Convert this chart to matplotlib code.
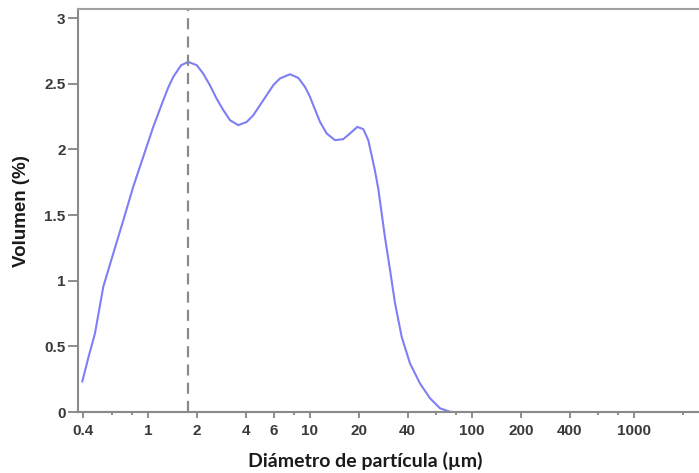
import matplotlib
matplotlib.use("Agg")
import matplotlib.pyplot as plt
from matplotlib.ticker import FixedLocator, NullFormatter

# Data
diam = [0.393, 0.43, 0.471, 0.53, 0.611, 0.705, 0.811, 0.935, 1.078, 1.243,
        1.334, 1.433, 1.6, 1.77, 2.0, 2.19, 2.41, 2.65, 2.92, 3.21, 3.61,
        4.07, 4.47, 4.91, 5.40, 5.94, 6.53, 7.53, 8.47, 9.31, 10.0, 10.48,
        11.53, 12.68, 14.26, 16.06, 17.66, 19.59, 21.33, 22.9, 24.0, 25.2,
        26.4, 29.0, 31.2, 33.5, 36.8, 41.4, 47.7, 55.1, 63.5, 73.1, 76.0]
vol = [0.231, 0.42, 0.599, 0.954, 1.208, 1.461, 1.715, 1.943, 2.171, 2.374,
       2.471, 2.552, 2.64, 2.666, 2.641, 2.578, 2.489, 2.387, 2.298, 2.222,
       2.184, 2.209, 2.26, 2.336, 2.412, 2.489, 2.54, 2.572, 2.544, 2.476,
       2.40, 2.336, 2.209, 2.121, 2.07, 2.078, 2.121, 2.171, 2.154, 2.07,
       1.956, 1.835, 1.70, 1.334, 1.081, 0.827, 0.573, 0.371, 0.218, 0.104,
       0.028, 0.002, 0.0]
mode_diam = 1.76

xticks_major = [0.4, 1, 2, 4, 6, 10, 20, 40, 100, 200, 400, 1000]
xtick_labels = ["0.4", "1", "2", "4", "6", "10", "20", "40", "100", "200", "400", "1000"]
xticks_minor = [0.6, 0.8, 8, 60, 80, 600, 800, 2000]
yticks = [0, 0.5, 1, 1.5, 2, 2.5, 3]
ytick_labels = ["0", "0.5", "1", "1.5", "2", "2.5", "3"]

W, H = 699, 473
fig = plt.figure(figsize=(W / 100, H / 100), dpi=100)
ax = fig.add_axes([78 / W, (H - 412) / H, (W - 78) / W, (412 - 9.5) / H])

ax.plot(diam, vol, color="#7f7ff5", lw=1.5, solid_joinstyle="round",
        solid_capstyle="round")
ax.axvline(mode_diam, color="#8a8a8a", lw=1.6, ls=(0, (5, 3.2)))

ax.set_xscale("log")
ax.set_xlim(0.37, 2518)
ax.set_ylim(0, 3.065)

ax.xaxis.set_major_locator(FixedLocator(xticks_major))
ax.set_xticklabels(xtick_labels)
ax.xaxis.set_minor_locator(FixedLocator(xticks_minor))
ax.xaxis.set_minor_formatter(NullFormatter())
ax.set_yticks(yticks)
ax.set_yticklabels(ytick_labels)

for lab in ax.get_xticklabels() + ax.get_yticklabels():
    lab.set_fontfamily("Liberation Sans")
    lab.set_fontweight("bold")
    lab.set_fontsize(11)
    lab.set_color("#3a3a3a")

ax.tick_params(axis="x", which="major", length=4.5, width=1.2, color="#7a7a7a", pad=4)
ax.tick_params(axis="x", which="minor", length=2.5, width=1.2, color="#7a7a7a")
ax.tick_params(axis="y", which="major", length=7, width=1.2, color="#7a7a7a", pad=2)

for side in ["left", "bottom", "top"]:
    ax.spines[side].set_color("#8a8a8a")
    ax.spines[side].set_linewidth(1.5)
ax.spines["top"].set_color("#a0a0a0")
ax.spines["right"].set_visible(False)

fig.text(22 / W, 1 - 211 / H, "Volumen (%)", rotation=90, ha="center", va="center",
         family="Liberation Sans", weight="bold", size=13.5, color="#1a1a1a")
fig.text(365 / W, 1 - 461 / H, "Diámetro de partícula (µm)", ha="center", va="center",
         family="Lato", weight="bold", size=14, color="#1a1a1a")

fig.savefig("out.png", dpi=100)
